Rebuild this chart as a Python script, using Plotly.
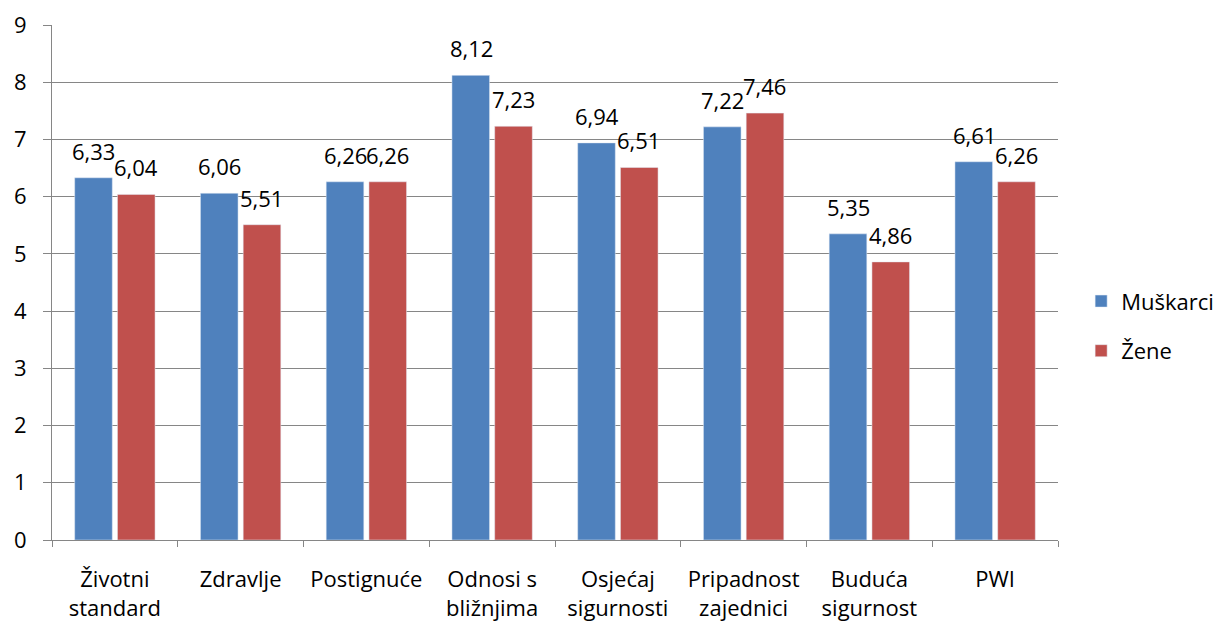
import plotly.graph_objects as go

categories = ["Životni<br>standard", "Zdravlje", "Postignuće", "Odnosi s<br>bližnjima",
              "Osjećaj<br>sigurnosti", "Pripadnost<br>zajednici", "Buduća<br>sigurnost", "PWI"]
muskarci = [6.33, 6.06, 6.26, 8.12, 6.94, 7.22, 5.35, 6.61]
zene = [6.04, 5.51, 6.26, 7.23, 6.51, 7.46, 4.86, 6.26]
y_ticks = [0, 1, 2, 3, 4, 5, 6, 7, 8, 9]

FONT = "Open Sans"
FS = 22

def fmt(v):
    return f"{v:.2f}".replace(".", ",")

fig = go.Figure()
fig.add_trace(go.Bar(name="Muškarci", x=categories, y=muskarci, marker_color="#4F81BD",
                     legendgroup="m", cliponaxis=False))
fig.add_trace(go.Bar(name="Žene", x=categories, y=zene, marker_color="#C0504D",
                     legendgroup="z", cliponaxis=False))

# data labels above each bar
for vals, shift in ((muskarci, -21), (zene, 21)):
    for c, v in zip(categories, vals):
        fig.add_annotation(x=c, y=v, xref="x", yref="y", text=fmt(v), showarrow=False,
                           xshift=shift, yshift=27, yanchor="middle",
                           font=dict(size=FS, family=FONT, color="#000000"))

fig.update_layout(
    width=1224, height=624,
    margin=dict(l=44, r=174, t=17, b=92, autoexpand=False),
    paper_bgcolor="white", plot_bgcolor="white",
    barmode="group", bargap=0.32, bargroupgap=0.12,
    font=dict(family=FONT, size=FS, color="#000000"),
    showlegend=True,
    legend=dict(x=1.023, y=0.415, xanchor="left", yanchor="middle",
                font=dict(size=FS, family=FONT), tracegroupgap=18, itemwidth=30),
    xaxis=dict(showline=True, linecolor="#868686", linewidth=1, automargin=False,
               ticks="outside", tickson="boundaries", ticklen=6, tickcolor="#868686",
               tickfont=dict(size=FS, family=FONT), showgrid=False, ticklabelstandoff=20),
    yaxis=dict(range=[0, 9], tickvals=y_ticks, showgrid=True, gridcolor="#868686", gridwidth=1,
               showline=True, linecolor="#868686", ticks="outside", ticklen=8, automargin=False,
               tickcolor="#868686", tickfont=dict(size=FS, family=FONT),
               ticklabelstandoff=12, zeroline=False),
)
fig.write_html("out.html")
